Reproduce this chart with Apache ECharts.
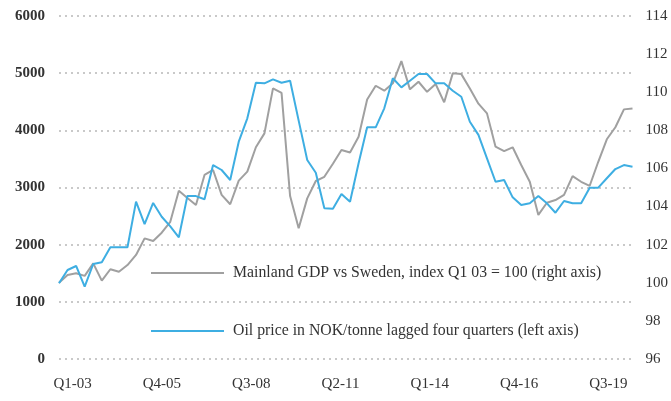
<!DOCTYPE html>
<html>
<head>
<meta charset="utf-8">
<script src="https://cdn.jsdelivr.net/npm/echarts@6/dist/echarts.min.js"></script>
<style>
  html, body { margin: 0; padding: 0; background: #fff; }
  #chart { width: 671px; height: 401px; }
</style>
</head>
<body>
<div id="chart"></div>
<script>
// quarterly categories, Q1-03 .. Q4-19
const quarters = []
for (let y = 3; y <= 19; y++) {
  for (let q = 1; q <= 4; q++) {
    quarters.push('Q' + q + '-' + String(y).padStart(2, '0'))
  }
}

const tickLabels = ['Q1-03', 'Q4-05', 'Q3-08', 'Q2-11', 'Q1-14', 'Q4-16', 'Q3-19']

// Mainland GDP vs Sweden, index Q1 03 = 100 (right axis)
const gdpIndex = [
  100.0, 100.41, 100.5, 100.36, 101.02, 100.11, 100.71, 100.58, 100.93, 101.46,
  102.33, 102.19, 102.63, 103.2, 104.83, 104.45, 104.08, 105.66, 105.92, 104.61,
  104.12, 105.36, 105.83, 107.11, 107.84, 110.2, 109.97, 104.55, 102.86, 104.43,
  105.34, 105.56, 106.25, 106.97, 106.84, 107.66, 109.62, 110.34, 110.08, 110.47,
  111.63, 110.15, 110.55, 110.02, 110.43, 109.47, 110.99, 110.95, 110.2, 109.4,
  108.89, 107.14, 106.91, 107.11, 106.18, 105.3, 103.56, 104.2, 104.34, 104.61,
  105.6, 105.3, 105.09, 106.35, 107.53, 108.16, 109.1, 109.15
]

// Oil price in NOK/tonne lagged four quarters (left axis)
const oilPrice = [
  1324, 1557, 1627, 1265, 1662, 1691, 1954, 1954, 1954, 2752,
  2361, 2729, 2489, 2320, 2129, 2850, 2850, 2794, 3393, 3306,
  3131, 3801, 4210, 4833, 4822, 4892, 4833, 4868, 4170, 3481,
  3259, 2636, 2630, 2886, 2752, 3423, 4053, 4053, 4385, 4910,
  4752, 4868, 4985, 4985, 4822, 4822, 4693, 4588, 4151, 3920,
  3511, 3101, 3131, 2828, 2694, 2723, 2851, 2723, 2559, 2764,
  2723, 2723, 2997, 2997, 3161, 3323, 3393, 3364
]

const serif = '"Liberation Serif", "DejaVu Serif", serif'
const textColor = '#333'

const chart = echarts.init(document.getElementById('chart'))
chart.setOption({
  animation: false,
  textStyle: { fontFamily: serif },
  legend: {
    orient: 'vertical',
    left: 151,
    top: 265,
    padding: 0,
    itemWidth: 73,
    itemHeight: 16,
    itemGap: 42,
    icon: 'path://M0,0 L73,0 L73,2 L0,2 Z',
    textStyle: { fontFamily: serif, fontSize: 15.8, color: textColor, lineHeight: 16, padding: [0, 0, 0, 4] },
    data: ['Mainland GDP vs Sweden, index Q1 03 = 100 (right axis)',
           'Oil price in NOK/tonne lagged four quarters (left axis)']
  },
  grid: [
    { left: 59, right: 36, top: 16, bottom: 42 },
    { left: 28, right: 18, top: 16, bottom: 42 }
  ],
  xAxis: [
    {
      gridIndex: 0,
      type: 'category',
      data: quarters,
      boundaryGap: false,
      axisLine: { show: false },
      axisTick: { show: false },
      axisLabel: { show: false }
    },
    {
      gridIndex: 1,
      type: 'category',
      data: tickLabels,
      boundaryGap: true,
      axisLine: { show: false },
      axisTick: { show: false },
      axisLabel: { margin: 18, fontSize: 15, color: textColor, fontFamily: serif }
    }
  ],
  yAxis: [
    {
      gridIndex: 0,
      type: 'value',
      position: 'left',
      min: 0,
      max: 6000,
      interval: 1000,
      axisLine: { show: false },
      axisTick: { show: false },
      axisLabel: {
        margin: 14, fontSize: 15, fontWeight: 'bold', color: textColor, fontFamily: serif,
        formatter: v => String(v)
      },
      splitLine: { lineStyle: { color: '#b8b8b8', type: [2, 4], width: 1.5 } }
    },
    {
      gridIndex: 0,
      type: 'value',
      position: 'right',
      min: 96,
      max: 114,
      interval: 2,
      axisLine: { show: false },
      axisTick: { show: false },
      axisLabel: { margin: 13, fontSize: 15, color: textColor, fontFamily: serif },
      splitLine: { show: false }
    },
    { gridIndex: 1, type: 'value', show: false }
  ],
  series: [
    {
      name: 'Mainland GDP vs Sweden, index Q1 03 = 100 (right axis)',
      type: 'line',
      xAxisIndex: 0,
      yAxisIndex: 1,
      data: gdpIndex,
      symbol: 'none',
      itemStyle: { color: '#a0a0a0' },
      lineStyle: { color: '#a0a0a0', width: 2 }
    },
    {
      name: 'Oil price in NOK/tonne lagged four quarters (left axis)',
      type: 'line',
      xAxisIndex: 0,
      yAxisIndex: 0,
      data: oilPrice,
      symbol: 'none',
      itemStyle: { color: '#3eaee2' },
      lineStyle: { color: '#3eaee2', width: 2 }
    }
  ]
})
</script>
</body>
</html>
